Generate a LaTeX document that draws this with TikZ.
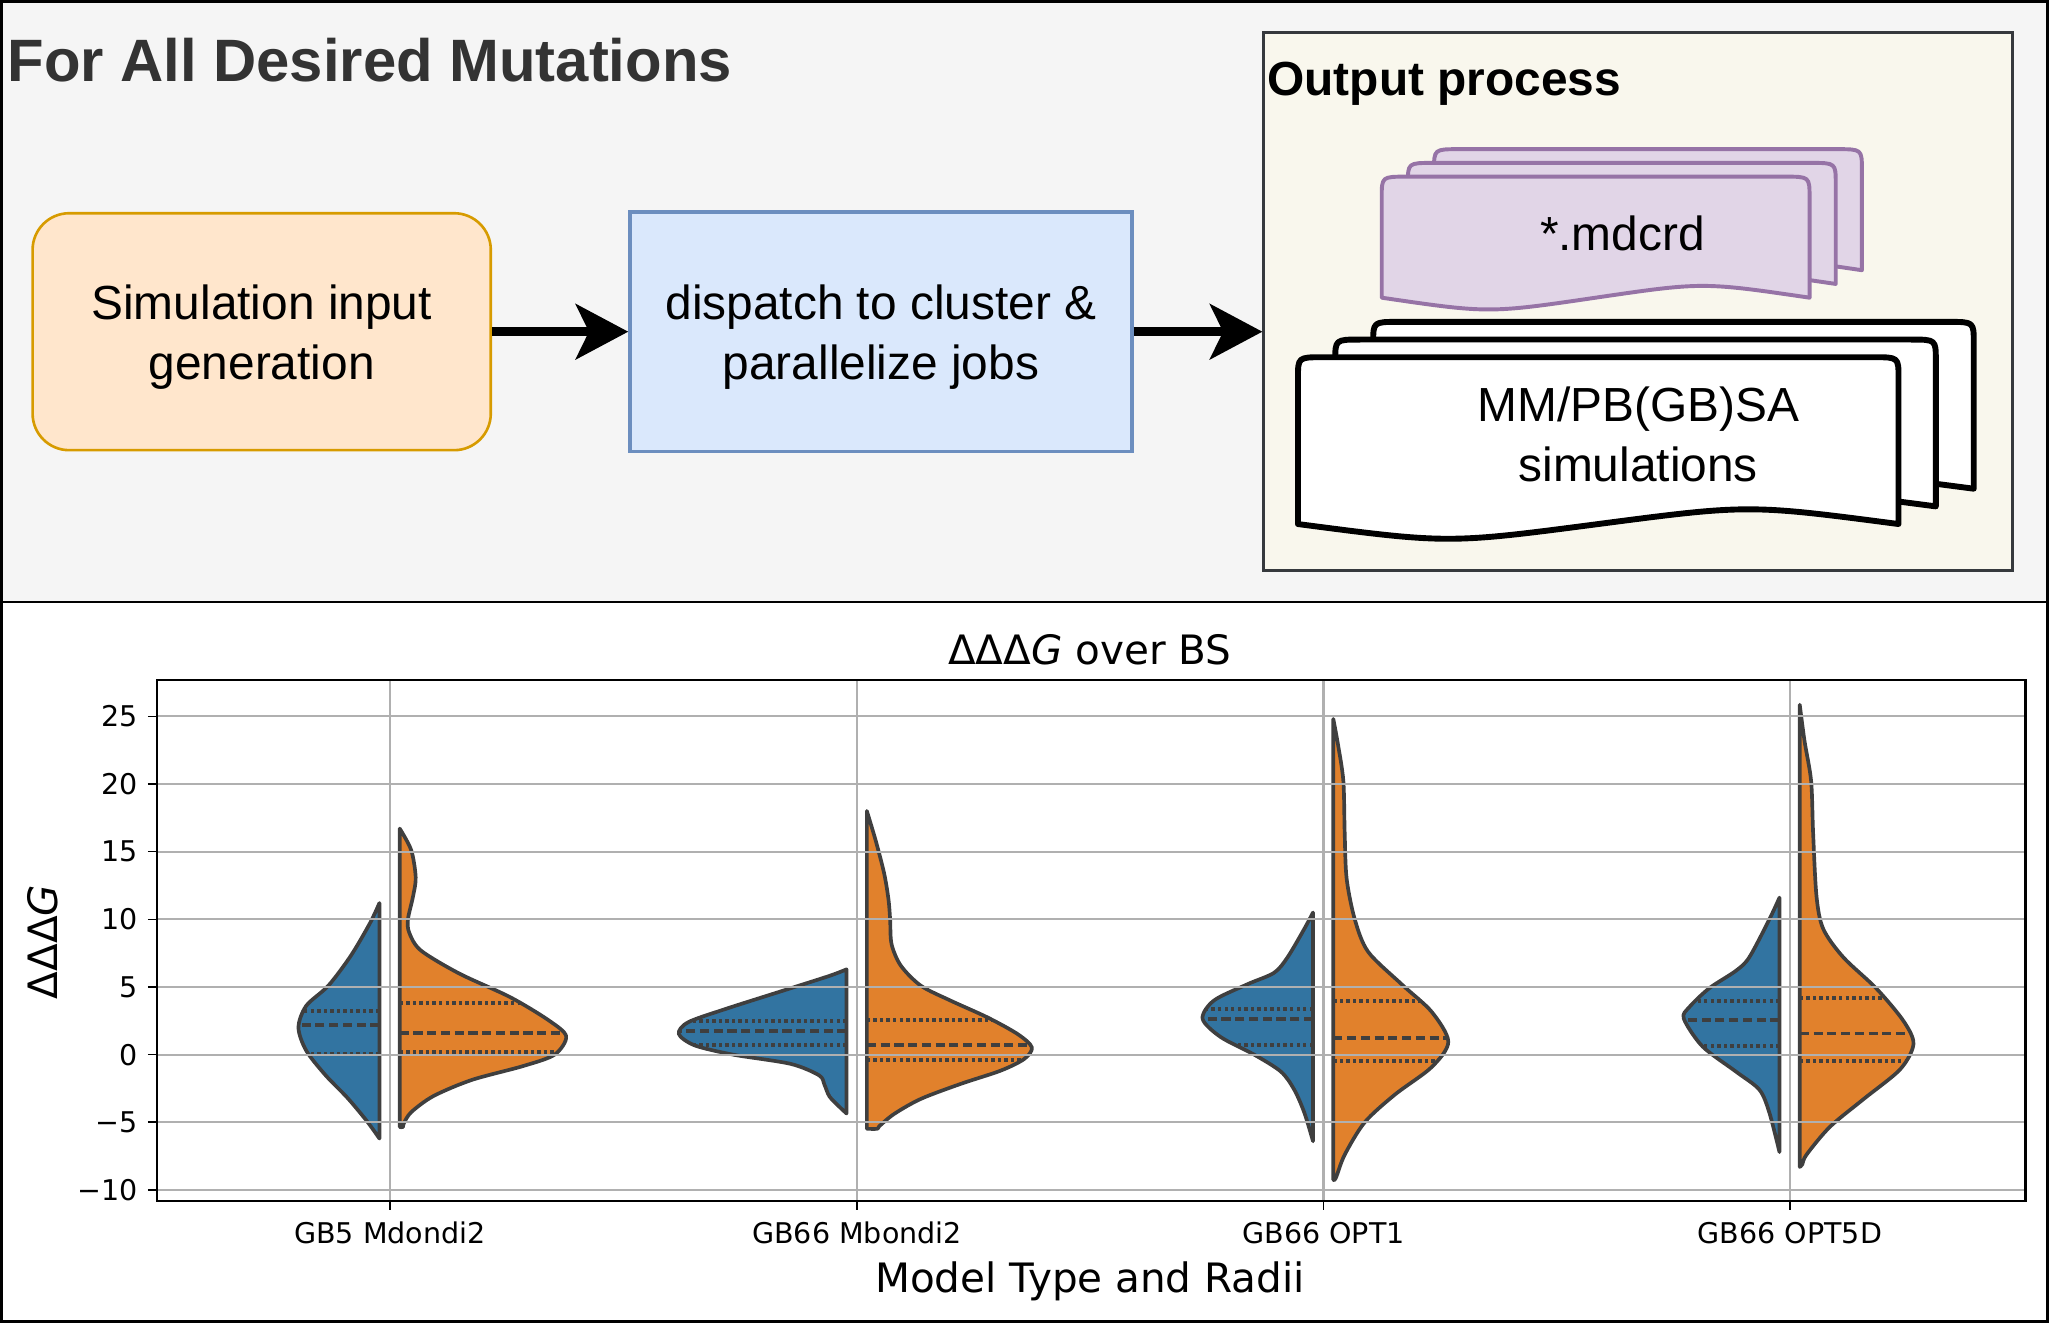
\documentclass[tikz,border=0pt]{standalone}
\usepackage{fontspec}
\setmainfont{Liberation Sans}
\newfontfamily\plotfont{DejaVu Sans}
\usetikzlibrary{arrows.meta}
\usetikzlibrary{positioning}

\definecolor{panelgray}{HTML}{F5F5F5}
\definecolor{titlegray}{HTML}{333333}
\definecolor{inputfill}{HTML}{FFE6CC}
\definecolor{inputline}{HTML}{D79B00}
\definecolor{jobfill}{HTML}{DAE8FC}
\definecolor{jobline}{HTML}{6C8EBF}
\definecolor{outfill}{HTML}{F9F7ED}
\definecolor{outborder}{HTML}{36393D}
\definecolor{mdfill}{HTML}{E1D5E7}
\definecolor{mdline}{HTML}{9673A6}
\definecolor{vblue}{HTML}{3274A1}
\definecolor{vorange}{HTML}{E1812C}
\definecolor{vedge}{HTML}{3F3F3F}
\definecolor{gridgray}{HTML}{B0B0B0}

\tikzstyle{inputbox} = [rectangle, rounded corners=0.28cm, minimum width=3.5cm, minimum height=1.81cm, align=center, draw=inputline, line width=0.02cm, fill=inputfill, font=\fontsize{10.4}{13.1}\selectfont]
\tikzstyle{jobbox} = [rectangle, minimum width=3.83cm, minimum height=1.83cm, align=center, draw=jobline, line width=0.03cm, fill=jobfill, font=\fontsize{10.4}{13.1}\selectfont]
\tikzstyle{container} = [rectangle, minimum width=5.72cm, minimum height=4.11cm, draw=outborder, line width=0.02cm, fill=outfill]
\tikzstyle{doctext} = [align=center, font=\fontsize{10.4}{13.1}\selectfont]
\tikzstyle{arrow} = [line width=0.07cm, -{Stealth[length=0.4cm, width=0.42cm, inset=0.1cm]}]
\tikzstyle{purpledoc} = [draw=mdline, fill=mdfill, line width=0.03cm, line join=round]
\tikzstyle{whitedoc} = [draw=black, fill=white, line width=0.045cm, line join=round]
\tikzstyle{gridline} = [gridgray, line width=0.016cm]
\tikzstyle{violinedge} = [vedge, line width=0.028cm, line join=round]
\tikzstyle{quartile} = [vedge, line width=0.03cm, dash pattern=on 0.026cm off 0.024cm]
\tikzstyle{median} = [vedge, line width=0.03cm, dash pattern=on 0.07cm off 0.035cm]
\tikzstyle{ticklabel} = [inner sep=0pt, font={\plotfont\fontsize{6.2}{7.4}\selectfont}]
\tikzstyle{axislabel} = [inner sep=0pt, font={\plotfont\fontsize{8.8}{10.5}\selectfont}]

% document sheet: x, y (top left), width, height, wave
\newcommand{\docpath}[5]{(#1,#2+#4) -- (#1,#2+16) .. controls (#1,#2) .. (#1+19,#2) -- (#1+#3-19,#2) .. controls (#1+#3,#2) .. (#1+#3,#2+16) -- (#1+#3,#2+#4) .. controls (#1+0.75*#3,#2+#4-#5) .. (#1+0.5*#3,#2+#4) .. controls (#1+0.25*#3,#2+#4+#5) .. (#1,#2+#4) -- cycle}

% half violin: colour, edge x, side, points (width,value), q1, median, q3
\newcommand{\halfviolin}[7]{%
  \begin{scope}[shift={(#2,0)}, xscale=#3]
    \begin{scope}
      \clip plot[smooth] coordinates {#4} -- cycle;
      \fill[#1] (0,-15) rectangle (200,30);
      \draw[quartile] (0,#5) -- (200,#5);
      \draw[median] (0,#6) -- (200,#6);
      \draw[quartile] (0,#7) -- (200,#7);
    \end{scope}
    \draw[violinedge] plot[smooth] coordinates {#4} -- cycle;
  \end{scope}}

\begin{document}
\begin{tikzpicture}[x=0.01cm, y=-0.01cm]
\useasboundingbox (0,0) rectangle (1566,1011);

% top panel
\fill[panelgray] (0,0) rectangle (1566,460);
\draw[line width=0.02cm] (0,460) -- (1566,460);
\draw[line width=0.02cm] (1,1) rectangle (1565,1010);

\node (maintitle) [anchor=base west, inner sep=0pt, text=titlegray, font=\bfseries\fontsize{13}{15.6}\selectfont] at (5,62) {For All Desired Mutations};

\node (siminput) [inputbox] at (200,253.5) {\rule{0pt}{10pt}Simulation input\\generation};
\node (dispatch) [jobbox, right=1.04cm of siminput] {\rule{0pt}{10pt}dispatch to cluster \&\\parallelize jobs};
\node (output) [container] at (1252,230.5) {};
\node (outtitle) [anchor=base west, inner sep=0pt, font=\bfseries\fontsize{10.4}{13.1}\selectfont] at (968,72.6) {Output process};

\draw [arrow] (siminput) -- (dispatch);
\draw [arrow] (dispatch) -- (dispatch -| output.west);

\draw[purpledoc] \docpath{1096}{114}{327}{92.5}{12};
\draw[purpledoc] \docpath{1076}{124.5}{327}{92.5}{12};
\draw[purpledoc] \docpath{1056}{135}{327}{92.5}{12};
\node (mdcrd) [doctext] at (1240,178) {*.mdcrd};

\draw[whitedoc] \docpath{1049.5}{246}{459}{127.5}{15};
\draw[whitedoc] \docpath{1020.5}{259.5}{459}{127.5}{15};
\draw[whitedoc] \docpath{992}{273}{459}{127.5}{15};
\node (mmpbsa) [doctext] at (1252,332) {MM/PB(GB)SA\\simulations};

% bottom panel: violin plot
\begin{scope}[shift={(0,806)}, y=0.1034cm]
\halfviolin{vblue}{290}{-1}{(0,11.2) (7.3,9.7) (21.9,7.3) (39,5.1) (56,3.6) (61.9,2.0) (56,0.3) (41.4,-1.5) (24.4,-3.2) (9.7,-4.9) (0,-6.2)}{0.07}{2.2}{3.2}
\halfviolin{vorange}{305.5}{1}{(0,16.7) (8.8,15.1) (12.2,13.1) (10.2,11.7) (6.3,10.0) (7.3,9.0) (16.1,7.7) (45.3,6.0) (84.3,4.25) (113.6,2.55) (127.2,1.36) (118.4,0) (94.1,-0.85) (55.1,-1.87) (25.8,-3.06) (8.8,-4.25) (3,-5.1) (2.5,-5.35) (0,-5.35)}{0.17}{1.63}{3.8}
\halfviolin{vblue}{647}{-1}{(0,6.3) (13.6,5.8) (52.6,4.6) (91.6,3.4) (120.9,2.4) (128.2,1.53) (116,0.68) (86.8,0) (42.9,-0.68) (21,-1.53) (17,-2.2) (13,-3.1) (5,-3.9) (0,-4.35)}{0.68}{1.77}{2.45}
\halfviolin{vorange}{662.5}{1}{(0,18) (6.8,15.8) (13.2,13.4) (16.5,11.5) (17.8,10) (18.9,8.16) (26,6.57) (41.3,5.09) (64.2,3.98) (92.2,2.75) (115.2,1.52) (126.1,0.54) (120.3,-0.32) (102.4,-1.18) (71.8,-2.16) (41.3,-3.27) (20.9,-4.38) (9.4,-5.3) (8,-5.48) (0,-5.48)}{-0.37}{0.74}{2.58}
\halfviolin{vblue}{1003.5}{-1}{(0,10.5) (6.6,9.3) (19.4,7.2) (29.7,6.05) (50.1,5.2) (75.7,4.0) (84.4,2.65) (70.6,1.3) (45,0) (24.5,-1.26) (14.3,-2.6) (6.6,-4.3) (0,-6.4)}{0.68}{2.65}{3.4}
\halfviolin{vorange}{1019}{1}{(0,24.8) (3.6,22.9) (7.7,20.2) (8.7,16.4) (10.2,13.0) (16.4,10.0) (26.6,7.6) (52.2,5.2) (75.2,3.16) (87.9,0.95) (75.2,-0.92) (47,-2.96) (24,-5.0) (8.7,-7.4) (2,-9.1) (0,-9.25)}{-0.44}{1.26}{3.98}
\halfviolin{vblue}{1360}{-1}{(0,11.6) (7.7,10) (23,7.2) (33.2,6.2) (53.7,4.9) (69,3.5) (73.1,2.65) (58.8,0.6) (33.2,-1.26) (15.3,-2.6) (7.7,-4.3) (0,-7.2)}{0.61}{2.58}{3.98}
\halfviolin{vorange}{1375.5}{1}{(0,25.85) (3.6,23.2) (8.7,20.2) (10.2,16.4) (12.8,11.7) (17.9,9.3) (33.2,7.2) (58.8,4.86) (79.3,2.48) (86.9,0.78) (76.7,-1.09) (48.6,-3.3) (23,-5.34) (5.1,-7.4) (2,-8.1) (0,-8.3)}{-0.48}{1.56}{4.18}
\end{scope}

\foreach \y/\lab [count=\i] in {547.5/25, 599.2/20, 650.9/15, 702.6/10, 754.3/5, 806/0, 857.7/−5, 909.4/−10} {
  \draw[gridline] (120,\y) -- (1548,\y);
  \draw[line width=0.012cm] (113,\y) -- (120,\y);
  \node (ytick\i) [ticklabel, anchor=east] at (106,\y) {\lab};
}
\foreach \x/\lab [count=\i] in {298/GB5 Mdondi2, 655/GB66 Mbondi2, 1011.5/GB66 OPT1, 1368/GB66 OPT5D} {
  \draw[gridline] (\x,520) -- (\x,918);
  \draw[line width=0.012cm] (\x,918) -- (\x,925);
  \node (xtick\i) [ticklabel, anchor=base] at (\x,950) {\lab};
}
\draw[line width=0.016cm] (120,520) rectangle (1548,918);

\node (plottitle) [axislabel, anchor=base] at (833,508) {ΔΔΔ\textit{G} over BS};
\node (xlab) [axislabel, anchor=base] at (833,988) {Model Type and Radii};
\node (ylab) [axislabel, rotate=90] at (33,720) {ΔΔΔ\textit{G}};

\end{tikzpicture}
\end{document}
